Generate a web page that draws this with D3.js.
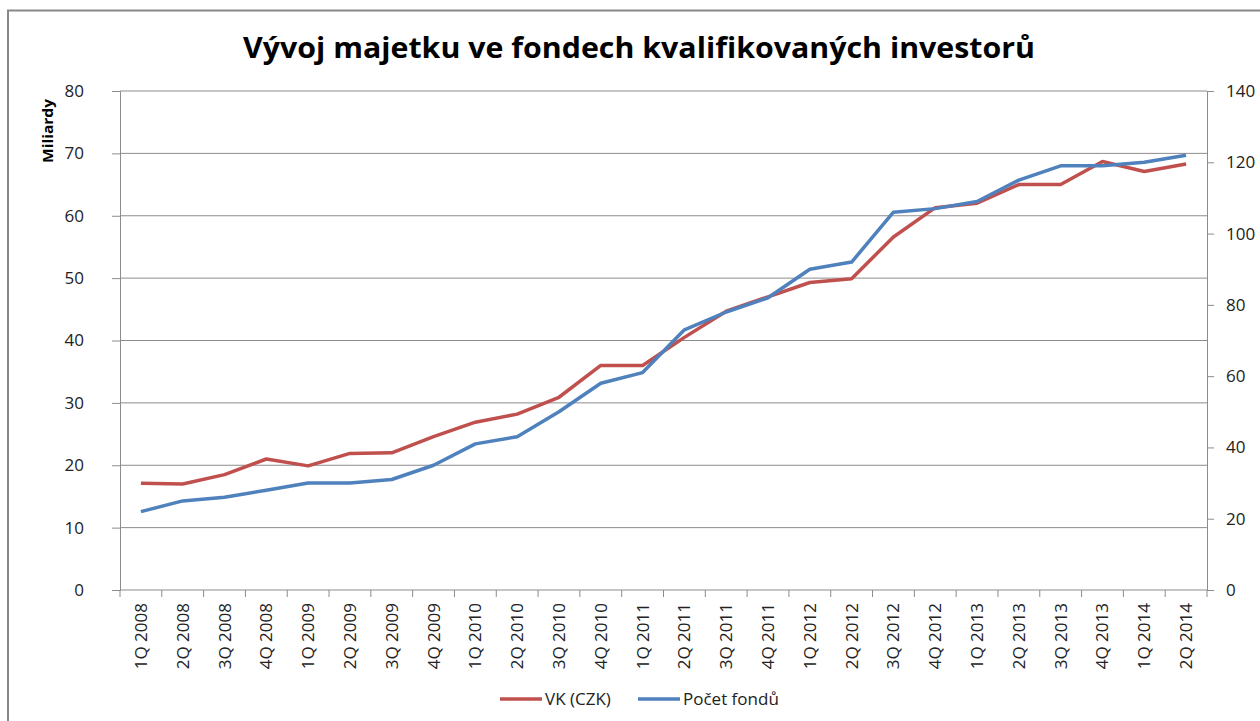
<!DOCTYPE html>
<html>
<head>
<meta charset="utf-8">
<script src="https://cdn.jsdelivr.net/npm/d3@7"></script>
<style>
  body { margin: 0; background: #fff; }
  svg { display: block; }
</style>
</head>
<body>
<div id="chart"></div>
<script>
// data
var quarters = ["1Q 2008", "2Q 2008", "3Q 2008", "4Q 2008", "1Q 2009", "2Q 2009", "3Q 2009", "4Q 2009",
                "1Q 2010", "2Q 2010", "3Q 2010", "4Q 2010", "1Q 2011", "2Q 2011", "3Q 2011", "4Q 2011",
                "1Q 2012", "2Q 2012", "3Q 2012", "4Q 2012", "1Q 2013", "2Q 2013", "3Q 2013", "4Q 2013",
                "1Q 2014", "2Q 2014"]
var vkCzk = [17.1, 17.0, 18.5, 21.0, 19.9, 21.9, 22.0, 24.6, 26.9, 28.2, 30.9, 36.0, 36.0, 40.5, 44.7, 47.0,
             49.3, 49.9, 56.6, 61.3, 62.0, 65.0, 65.0, 68.7, 67.1, 68.3]
var pocetFondu = [22, 25, 26, 28, 30, 30, 31, 35, 41, 43, 50, 58, 61, 73, 78, 82,
                  90, 92, 106, 107, 109, 115, 119, 119, 120, 122]
var leftTicks = [0, 10, 20, 30, 40, 50, 60, 70, 80]
var rightTicks = [0, 20, 40, 60, 80, 100, 120, 140]
var seriesNames = ["VK (CZK)", "Počet fondů"]
var seriesColors = ["#C0504D", "#4F81BD"]

var W = 1260, H = 721
var plotL = 120, plotR = 1207, plotT = 91, plotB = 590
var font = "'Open Sans', sans-serif"

var svg = d3.select("#chart").append("svg")
            .attr("width", W)
            .attr("height", H)

svg.append("rect")
   .attr("width", W)
   .attr("height", H)
   .attr("fill", "#fff")

// chart frame (only top and left edges visible)
svg.append("path")
   .attr("d", "M8," + H + " V10.5 H" + W)
   .attr("fill", "none")
   .attr("stroke", "#888")
   .attr("stroke-width", 2)

var x = d3.scaleBand()
          .domain(quarters)
          .range([plotL, plotR])

var yLeft = d3.scaleLinear()
              .domain([0, 80])
              .range([plotB, plotT])

var yRight = d3.scaleLinear()
               .domain([0, 140])
               .range([plotB, plotT])

// gridlines
svg.append("g")
   .selectAll("line")
   .data(leftTicks.slice(1))
   .join("line")
   .attr("x1", plotL)
   .attr("x2", plotR)
   .attr("y1", d => yLeft(d))
   .attr("y2", d => yLeft(d))
   .attr("stroke", "#8c8c8c")
   .attr("stroke-width", 1)

// left axis
var axL = svg.append("g")
             .attr("transform", "translate(" + plotL + ",0)")
             .call(d3.axisLeft(yLeft).tickValues(leftTicks).tickSize(8).tickPadding(28))
axL.select(".domain").attr("stroke", "#8c8c8c")
axL.selectAll(".tick line").attr("stroke", "#8c8c8c")
axL.selectAll("text")
   .attr("font-family", font)
   .attr("font-size", 17)
   .attr("fill", "#222")

// right axis
var axR = svg.append("g")
             .attr("transform", "translate(" + plotR + ",0)")
             .call(d3.axisRight(yRight).tickValues(rightTicks).tickSize(7).tickPadding(12))
axR.select(".domain").attr("stroke", "#8c8c8c")
axR.selectAll(".tick line").attr("stroke", "#8c8c8c")
axR.selectAll("text")
   .attr("font-family", font)
   .attr("font-size", 17)
   .attr("fill", "#222")

// bottom axis: ticks on category boundaries
var axB = svg.append("g")
             .attr("transform", "translate(0," + plotB + ")")
axB.append("line")
   .attr("x1", plotL)
   .attr("x2", plotR)
   .attr("stroke", "#8c8c8c")
axB.selectAll(".bound")
   .data(quarters.concat(["end"]))
   .join("line")
   .attr("class", "bound")
   .attr("x1", (d, i) => i < quarters.length ? x(d) : plotR)
   .attr("x2", (d, i) => i < quarters.length ? x(d) : plotR)
   .attr("y1", 0)
   .attr("y2", 7)
   .attr("stroke", "#8c8c8c")
axB.selectAll("text")
   .data(quarters)
   .join("text")
   .attr("transform", d => "translate(" + (x(d) + x.bandwidth() / 2 + 6) + ",13) rotate(-90)")
   .attr("text-anchor", "end")
   .attr("font-family", font)
   .attr("font-size", 17)
   .attr("fill", "#222")
   .text(d => d)

// lines
var cx = d => x(d) + x.bandwidth() / 2
var lineL = d3.line().x((d, i) => cx(quarters[i])).y(d => yLeft(d))
var lineR = d3.line().x((d, i) => cx(quarters[i])).y(d => yRight(d))

svg.append("path")
   .datum(vkCzk)
   .attr("d", lineL)
   .attr("fill", "none")
   .attr("stroke", seriesColors[0])
   .attr("stroke-width", 3.5)
   .attr("stroke-linejoin", "round")

svg.append("path")
   .datum(pocetFondu)
   .attr("d", lineR)
   .attr("fill", "none")
   .attr("stroke", seriesColors[1])
   .attr("stroke-width", 3.5)
   .attr("stroke-linejoin", "round")

// title
svg.append("text")
   .attr("x", 639)
   .attr("y", 58)
   .attr("text-anchor", "middle")
   .attr("font-family", font)
   .attr("font-weight", "bold")
   .attr("font-size", 29)
   .attr("textLength", 792)
   .attr("lengthAdjust", "spacingAndGlyphs")
   .attr("fill", "#000")
   .text("Vývoj majetku ve fondech kvalifikovaných investorů")

// left axis title
svg.append("text")
   .attr("transform", "translate(53,131) rotate(-90)")
   .attr("text-anchor", "middle")
   .attr("font-family", font)
   .attr("font-weight", "bold")
   .attr("font-size", 15)
   .attr("textLength", 64)
   .attr("lengthAdjust", "spacingAndGlyphs")
   .attr("fill", "#000")
   .text("Miliardy")

// legend
var legendX = [500, 638]
var legend = svg.append("g")
                .selectAll("g")
                .data(seriesNames)
                .join("g")
                .attr("transform", (d, i) => "translate(" + legendX[i] + ",699)")
legend.append("line")
      .attr("x1", 0)
      .attr("x2", 42)
      .attr("stroke", (d, i) => seriesColors[i])
      .attr("stroke-width", 3.5)
legend.append("text")
      .attr("x", 45)
      .attr("y", 6)
      .attr("font-family", font)
      .attr("font-size", 17)
      .attr("fill", "#222")
      .text(d => d)
</script>
</body>
</html>
